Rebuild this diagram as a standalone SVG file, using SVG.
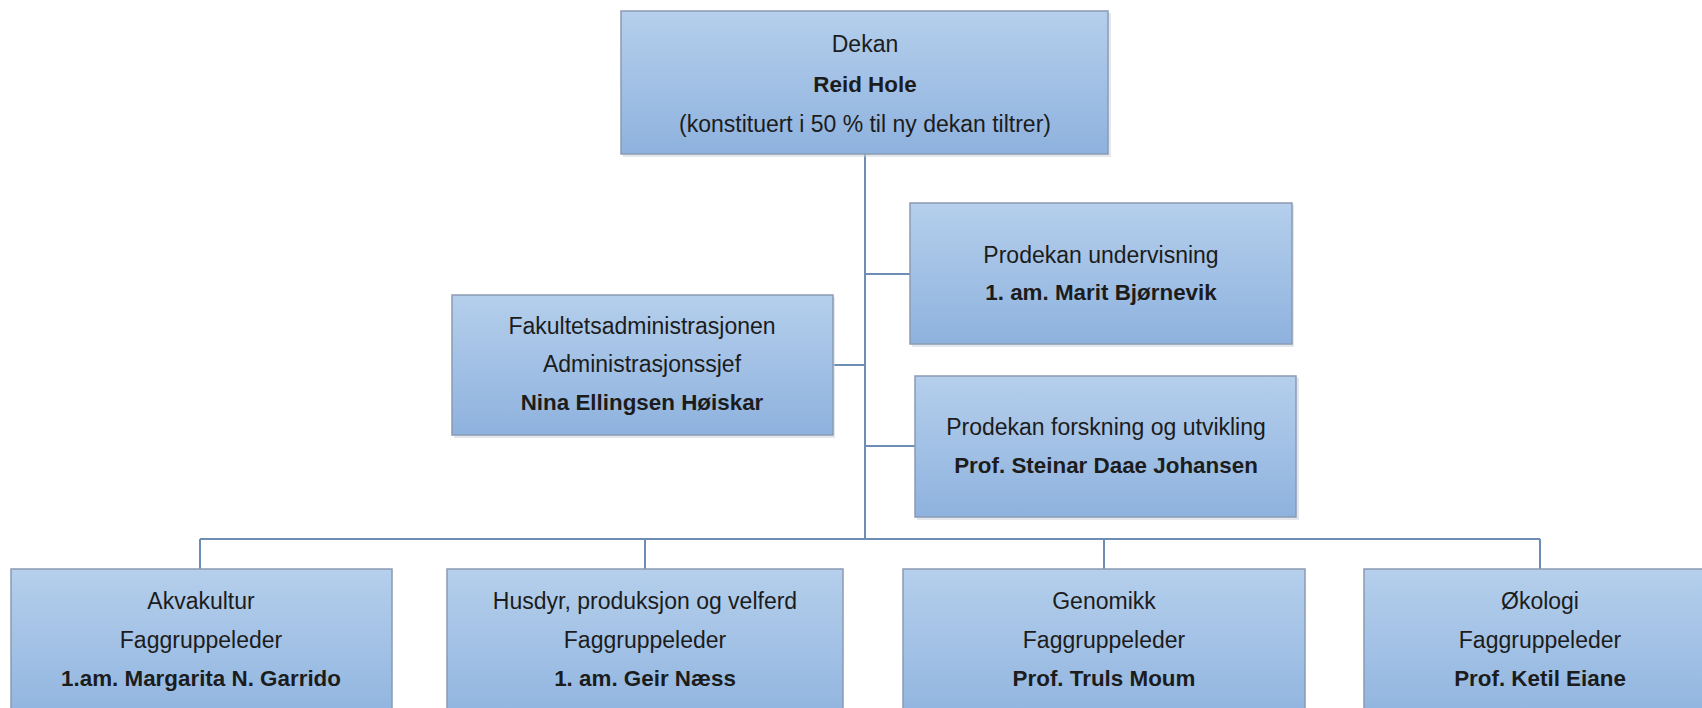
<svg xmlns="http://www.w3.org/2000/svg" width="1702" height="708" viewBox="0 0 1702 708">
  <defs>
    <linearGradient id="boxfill" x1="0" y1="0" x2="0" y2="1">
      <stop offset="0" stop-color="#b5cfec"/>
      <stop offset="1" stop-color="#8eb2de"/>
    </linearGradient>
    <linearGradient id="boxfillTall" gradientUnits="userSpaceOnUse" x1="0" y1="569" x2="0" y2="720">
      <stop offset="0" stop-color="#b5cfec"/>
      <stop offset="1" stop-color="#90b4df"/>
    </linearGradient>
  </defs>
  <style>
    .box { fill: url(#boxfill); stroke: #8a9bb3; stroke-width: 1.5; }
    .boxb { fill: url(#boxfillTall); stroke: #8a9bb3; stroke-width: 1.5; }
    .shadow { fill: #c9cfd8; opacity: 0.5; }
    .t { font-family: "Liberation Sans", Arial, sans-serif; font-size: 23px; fill: #1c1c1c; text-anchor: middle; }
    .b { font-weight: bold; font-size: 22.4px; }
    .conn { stroke: #6e8db4; stroke-width: 2; fill: none; }
  </style>
  <rect width="1702" height="708" fill="#ffffff"/>

  <g id="connectors">
    <line class="conn" x1="865" y1="154" x2="865" y2="539"/>
    <line class="conn" x1="865" y1="274" x2="910" y2="274"/>
    <line class="conn" x1="833" y1="365" x2="865" y2="365"/>
    <line class="conn" x1="865" y1="446" x2="915" y2="446"/>
    <line class="conn" x1="200" y1="539" x2="1540" y2="539"/>
    <line class="conn" x1="200" y1="539" x2="200" y2="569"/>
    <line class="conn" x1="645" y1="539" x2="645" y2="569"/>
    <line class="conn" x1="1104" y1="539" x2="1104" y2="569"/>
    <line class="conn" x1="1540" y1="539" x2="1540" y2="569"/>
  </g>

  <g id="dekan">
    <rect class="shadow" x="623" y="13" width="488" height="144"/>
    <rect class="box" x="621" y="11" width="487" height="143"/>
    <text class="t" x="865" y="52">Dekan</text>
    <text class="t b" x="865" y="92">Reid Hole</text>
    <text class="t" x="865" y="132">(konstituert i 50 % til ny dekan tiltrer)</text>
  </g>

  <g id="prodekan-undervisning">
    <rect class="shadow" x="912" y="205" width="382" height="142"/>
    <rect class="box" x="910" y="203" width="382" height="141"/>
    <text class="t" x="1101" y="263">Prodekan undervisning</text>
    <text class="t b" x="1101" y="300">1. am. Marit Bjørnevik</text>
  </g>

  <g id="fakultetsadministrasjonen">
    <rect class="shadow" x="454" y="297" width="381" height="141"/>
    <rect class="box" x="452" y="295" width="381" height="140"/>
    <text class="t" x="642" y="334">Fakultetsadministrasjonen</text>
    <text class="t" x="642" y="372">Administrasjonssjef</text>
    <text class="t b" x="642" y="410">Nina Ellingsen Høiskar</text>
  </g>

  <g id="prodekan-forskning">
    <rect class="shadow" x="917" y="378" width="382" height="142"/>
    <rect class="box" x="915" y="376" width="381" height="141"/>
    <text class="t" x="1106" y="435">Prodekan forskning og utvikling</text>
    <text class="t b" x="1106" y="473">Prof. Steinar Daae Johansen</text>
  </g>

  <g id="akvakultur">
    <rect class="boxb" x="11" y="569" width="381" height="150"/>
    <text class="t" x="201" y="609">Akvakultur</text>
    <text class="t" x="201" y="648">Faggruppeleder</text>
    <text class="t b" x="201" y="686">1.am. Margarita N. Garrido</text>
  </g>

  <g id="husdyr">
    <rect class="boxb" x="447" y="569" width="396" height="150"/>
    <text class="t" x="645" y="609">Husdyr, produksjon og velferd</text>
    <text class="t" x="645" y="648">Faggruppeleder</text>
    <text class="t b" x="645" y="686">1. am. Geir Næss</text>
  </g>

  <g id="genomikk">
    <rect class="boxb" x="903" y="569" width="402" height="150"/>
    <text class="t" x="1104" y="609">Genomikk</text>
    <text class="t" x="1104" y="648">Faggruppeleder</text>
    <text class="t b" x="1104" y="686">Prof. Truls Moum</text>
  </g>

  <g id="okologi">
    <rect class="boxb" x="1364" y="569" width="350" height="150"/>
    <text class="t" x="1540" y="609">Økologi</text>
    <text class="t" x="1540" y="648">Faggruppeleder</text>
    <text class="t b" x="1540" y="686">Prof. Ketil Eiane</text>
  </g>
</svg>
